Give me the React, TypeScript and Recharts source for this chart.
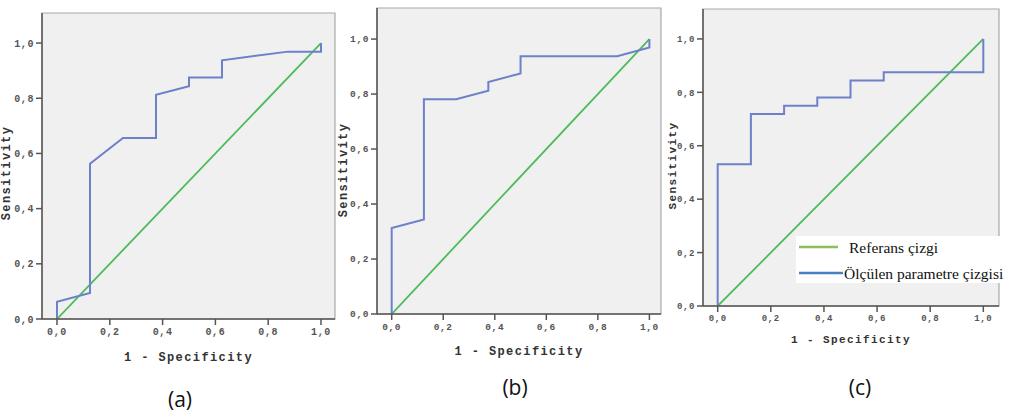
import { LineChart, Line, XAxis, YAxis, ReferenceArea, Legend, Label } from "recharts";

// axis ticks (shared by all three panels)
const axisTicks = [0, 0.2, 0.4, 0.6, 0.8, 1];

// reference diagonal
const refFpr = [0, 1];
const refTpr = [0, 1];

// (a)
const fprA = [0, 0, 0.125, 0.125, 0.25, 0.375, 0.375, 0.5, 0.5, 0.625, 0.625, 0.875, 1, 1];
const tprA = [0, 0.0625, 0.094, 0.5625, 0.656, 0.656, 0.8125, 0.844, 0.875, 0.875, 0.9375, 0.969, 0.969, 1];

// (b)
const fprB = [0, 0, 0.125, 0.125, 0.25, 0.375, 0.375, 0.5, 0.5, 0.875, 1, 1];
const tprB = [0, 0.3125, 0.344, 0.781, 0.781, 0.8125, 0.844, 0.875, 0.9375, 0.9375, 0.969, 1];

// (c)
const fprC = [0, 0, 0.125, 0.125, 0.25, 0.25, 0.375, 0.375, 0.5, 0.5, 0.625, 0.625, 1, 1];
const tprC = [0, 0.531, 0.531, 0.719, 0.719, 0.75, 0.75, 0.781, 0.781, 0.844, 0.844, 0.875, 0.875, 1];

const refName = "Referans çizgi";
const rocName = "Ölçülen parametre çizgisi";
const xTitle = "1 - Specificity";
const yTitle = "Sensitivity";

const GREEN = "#4cbb5a";
const BLUE = "#6d80ca";
const MONO = "'Liberation Mono', 'DejaVu Sans Mono', monospace";

const toPoints = (xs: number[], ys: number[]) => xs.map((x, i) => ({ x, y: ys[i] }));
const fmt = (v: number) => v.toFixed(1).replace(".", ",");

function YTitle(props: any) {
  const vb = props.viewBox || {};
  const cx = props.px;
  const cy = vb.y + vb.height / 2 + props.dy;
  return (
    <text
      x={cx}
      y={cy}
      transform={`rotate(-90 ${cx} ${cy})`}
      textAnchor="middle"
      dominantBaseline="central"
      fill="#333"
      fontFamily={MONO}
      fontWeight={700}
      fontSize={props.fs}
      letterSpacing={1.4}
    >
      {yTitle}
    </text>
  );
}

function LegendBox({ payload }: any) {
  const items = payload || [];
  return (
    <svg width={222} height={47} style={{ display: "block", background: "#fff" }}>
      {items.map((p: any, i: number) => (
        <g key={p.value}>
          <line x1={3} x2={i === 0 ? 42 : 47} y1={11 + i * 26} y2={11 + i * 26} stroke={i === 0 ? "#8cbf5c" : "#4a7ec2"} strokeWidth={2.5} />
          <text
            x={i === 0 ? 53 : 48}
            y={11 + i * 26}
            dominantBaseline="central"
            fontFamily="'Liberation Serif', 'DejaVu Serif', serif"
            fontSize={15.5}
            fill="#111"
          >
            {p.value}
          </text>
        </g>
      ))}
    </svg>
  );
}

type PanelProps = {
  fpr: number[];
  tpr: number[];
  left: number;
  width: number;
  margin: { top: number; right: number; left: number; bottom: number };
  yAxisWidth: number;
  xDomain: [number, number];
  yMax: number;
  tickFs: number;
  titleFs: number;
  xTitleOffset: number;
  yTitleX: number;
  yTitleDy: number;
  caption: string;
  capX: number;
  capY: number;
  legend?: { left: number; top: number };
};

function RocPanel(p: PanelProps) {
  const tick = { fill: "#555", fontSize: p.tickFs, fontFamily: MONO, fontWeight: 700, letterSpacing: 0.6 };
  return (
    <>
      <div style={{ position: "absolute", left: p.left, top: 0 }}>
        <LineChart width={p.width} height={412} margin={p.margin}>
          <ReferenceArea
            x1={p.xDomain[0]}
            x2={p.xDomain[1]}
            y1={0}
            y2={p.yMax}
            fill="#f0f0f0"
            fillOpacity={1}
            stroke="#a8a8a8"
            strokeWidth={1.2}
            ifOverflow="visible"
          />
          <XAxis
            type="number"
            dataKey="x"
            domain={p.xDomain}
            allowDataOverflow
            ticks={axisTicks}
            tickFormatter={fmt}
            tick={tick}
            tickSize={6}
            tickMargin={3}
            height={50}
            stroke="#555"
            strokeWidth={1.5}
          >
            <Label
              value={xTitle}
              position="insideBottom"
              offset={p.xTitleOffset}
              style={{ fill: "#333", fontFamily: MONO, fontWeight: 700, fontSize: p.titleFs, letterSpacing: 1.4 }}
            />
          </XAxis>
          <YAxis
            type="number"
            dataKey="y"
            domain={[0, p.yMax]}
            allowDataOverflow
            ticks={axisTicks}
            tickFormatter={fmt}
            tick={tick}
            tickSize={6}
            tickMargin={2}
            width={p.yAxisWidth}
            stroke="#555"
            strokeWidth={1.5}
          >
            <Label content={<YTitle px={p.yTitleX} dy={p.yTitleDy} fs={p.titleFs} />} />
          </YAxis>
          <Line
            data={toPoints(refFpr, refTpr)}
            dataKey="y"
            name={refName}
            type="linear"
            stroke={GREEN}
            strokeWidth={1.8}
            dot={false}
            isAnimationActive={false}
          />
          <Line
            data={toPoints(p.fpr, p.tpr)}
            dataKey="y"
            name={rocName}
            type="linear"
            stroke={BLUE}
            strokeWidth={2}
            dot={false}
            isAnimationActive={false}
          />
          {p.legend && (
            <Legend
              layout="horizontal"
              verticalAlign="middle"
              align="center"
              content={<LegendBox />}
              wrapperStyle={{ position: "absolute", left: p.legend.left, top: p.legend.top, width: 222, height: 47 }}
            />
          )}
        </LineChart>
      </div>
      <div
        style={{
          position: "absolute",
          left: p.capX - 30,
          top: p.capY - 14,
          width: 60,
          height: 28,
          lineHeight: "28px",
          textAlign: "center",
          fontFamily: "'Open Sans', 'Liberation Sans', sans-serif",
          fontSize: 21,
          color: "#111",
        }}
      >
        {p.caption}
      </div>
    </>
  );
}

export default function App() {
  return (
    <div style={{ position: "absolute", left: 0, top: 0, width: 1020, height: 412, background: "#fff", overflow: "hidden" }}>
      <RocPanel
        fpr={fprA}
        tpr={tprA}
        left={0}
        width={340}
        margin={{ top: 13, right: 5, left: 0, bottom: 43 }}
        yAxisWidth={42}
        xDomain={[-0.0568, 1.053]}
        yMax={1.109}
        tickFs={10}
        titleFs={12}
        xTitleOffset={8}
        yTitleX={7}
        yTitleDy={7}
        caption="(a)"
        capX={180}
        capY={399}
      />
      <RocPanel
        fpr={fprB}
        tpr={tprB}
        left={335}
        width={330}
        margin={{ top: 8, right: 4, left: 0, bottom: 48 }}
        yAxisWidth={42}
        xDomain={[-0.057, 1.045]}
        yMax={1.113}
        tickFs={9.5}
        titleFs={12}
        xTitleOffset={9}
        yTitleX={9}
        yTitleDy={9}
        caption="(b)"
        capX={515}
        capY={387}
      />
      <RocPanel
        fpr={fprC}
        tpr={tprC}
        left={660}
        width={360}
        margin={{ top: 9, right: 21, left: 0, bottom: 56 }}
        yAxisWidth={43}
        xDomain={[-0.0553, 1.059]}
        yMax={1.112}
        tickFs={9}
        titleFs={11}
        xTitleOffset={13}
        yTitleX={13}
        yTitleDy={8}
        caption="(c)"
        capX={860}
        capY={387}
        legend={{ left: 136, top: 236 }}
      />
    </div>
  );
}
